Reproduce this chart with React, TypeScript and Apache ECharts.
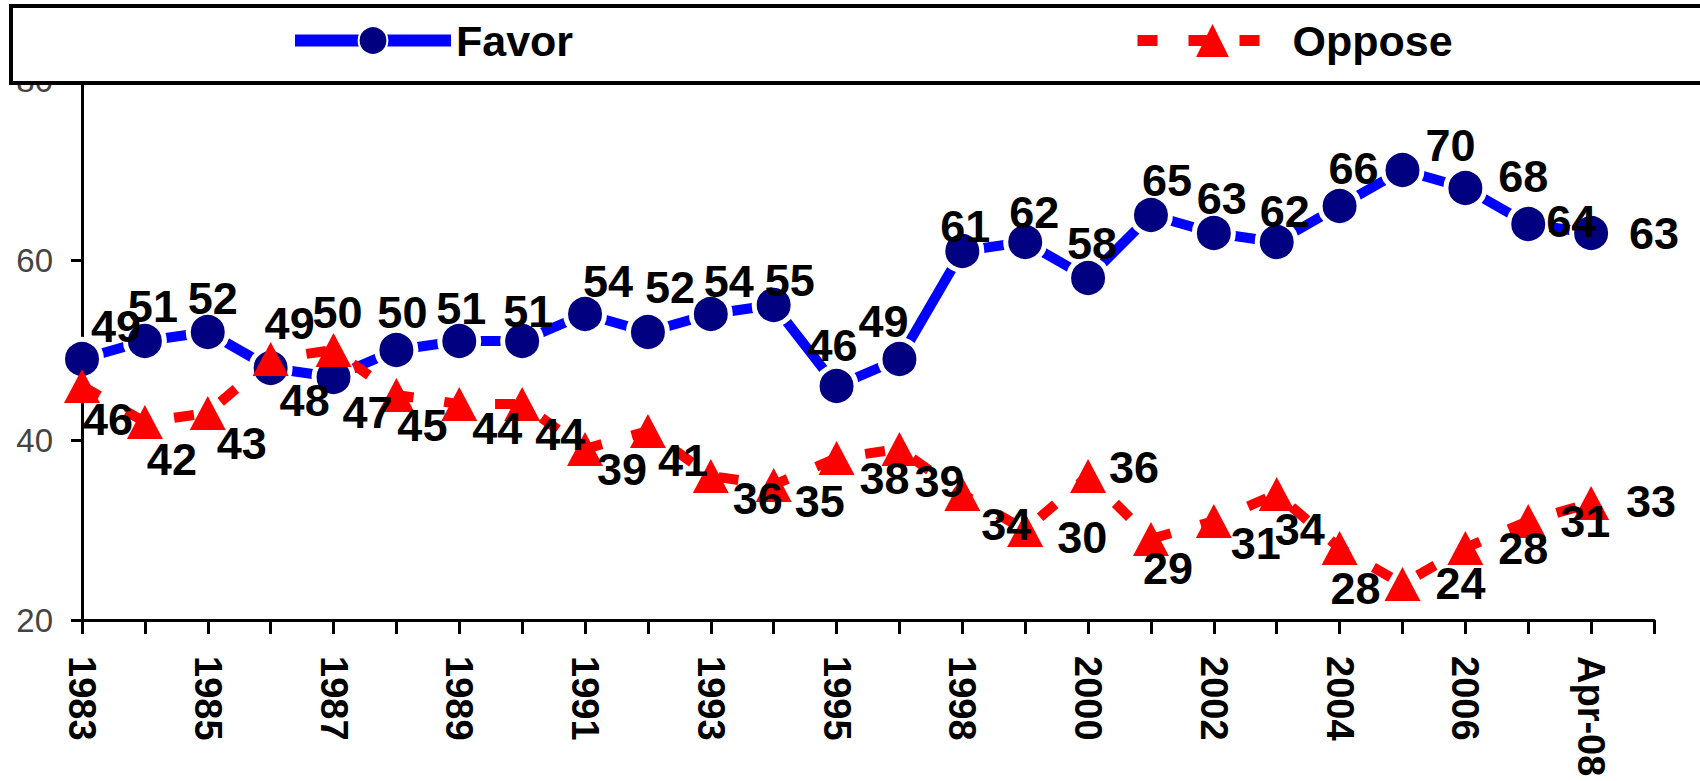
import React, { useEffect, useRef } from "react";
import * as echarts from "echarts";

const categories = [
  "1983", "1984", "1985", "1986", "1987", "1988", "1989", "1990", "1991", "1992",
  "1993", "1994", "1995", "1996", "1998", "1999", "2000", "2001", "2002", "2003",
  "2004", "2005", "2006", "2007", "Apr-08", "",
];
const favorValues = [49, 51, 52, 48, 47, 50, 51, 51, 54, 52, 54, 55, 46, 49, 61, 62, 58, 65, 63, 62, 66, 70, 68, 64, 63];
const opposeValues = [46, 42, 43, 49, 50, 45, 44, 44, 39, 41, 36, 35, 38, 39, 34, 30, 36, 29, 31, 34, 28, 24, 28, 31, 33];
const yAxisMin = 20;
const yAxisMax = 80;
const yAxisStep = 20;

// label placement (offset from the marker), kept apart from the values
const favorLabelOffsets = [
  [34, -33], [8, -35], [5, -34], [34, 32], [34, 35], [6, -38], [2, -33], [6, -30], [23, -33], [22, -45],
  [18, -33], [16, -25], [-4, -41], [-16, -38], [3, -25], [9, -30], [4, -35], [16, -35], [8, -35], [8, -31],
  [14, -38], [48, -25], [58, -12], [43, -3], [63, 0],
];
const opposeLabelOffsets = [
  [26, 33], [27, 37], [34, 30], [19, -36], [4, -38], [26, 30], [38, 24], [38, 30], [37, 20], [35, 29],
  [47, 22], [46, 16], [48, 20], [40, 32], [44, 30], [57, 7], [46, -9], [17, 29], [42, 22], [23, 35],
  [16, 40], [58, -1], [58, 0], [57, 0], [60, -2],
];

const FONT = "'Liberation Sans', Arial, Helvetica, sans-serif";

export default function App() {
  const ref = useRef<HTMLDivElement>(null);

  useEffect(() => {
    if (!ref.current) return;
    const chart = echarts.init(ref.current, undefined, { renderer: "svg" });
    const labelStyle = {
      show: true,
      position: "inside",
      fontSize: 45,
      fontWeight: "bold",
      color: "#000",
      fontFamily: FONT,
    };
    chart.setOption({
      animation: false,
      backgroundColor: "#fff",
      grid: { left: 82, right: 46, top: 80, bottom: 161, containLabel: false },
      legend: [
        {
          data: ["Favor"],
          left: 289,
          top: 19,
          padding: 0,
          itemWidth: 156,
          itemHeight: 36,
          selectedMode: false,
          lineStyle: { width: 12, type: "solid" },
          textStyle: { fontSize: 43, fontWeight: "bold", color: "#000", fontFamily: FONT },
        },
        {
          data: ["Oppose"],
          left: 1132,
          top: 19,
          padding: 0,
          itemWidth: 150,
          itemHeight: 41,
          selectedMode: false,
          lineStyle: { width: 11 },
          textStyle: { fontSize: 43, fontWeight: "bold", color: "#000", fontFamily: FONT },
        },
      ],
      graphic: [
        {
          type: "rect",
          z: 3,
          shape: { x: 11, y: 6, width: 1740, height: 77 },
          style: { fill: "#fff", stroke: "#000", lineWidth: 4 },
        },
      ],
      xAxis: {
        type: "category",
        data: categories,
        boundaryGap: false,
        axisLine: { lineStyle: { color: "#000", width: 3 } },
        axisTick: { show: true, interval: 0, length: 14, lineStyle: { color: "#000", width: 3 } },
        axisLabel: {
          interval: 1,
          rotate: -90,
          margin: 36,
          fontSize: 38,
          fontWeight: "bold",
          color: "#000",
          fontFamily: FONT,
        },
        splitLine: { show: false },
      },
      yAxis: {
        type: "value",
        min: yAxisMin,
        max: yAxisMax,
        interval: yAxisStep,
        axisLine: { show: true, lineStyle: { color: "#000", width: 3 } },
        axisTick: { show: true, length: 11, lineStyle: { color: "#000", width: 3 } },
        axisLabel: { fontSize: 33, color: "#444", margin: 29, fontFamily: FONT },
        splitLine: { show: false },
      },
      series: [
        {
          name: "Favor",
          type: "line",
          data: favorValues.map((v, i) => ({ value: v, label: { offset: favorLabelOffsets[i] } })),
          symbol: "circle",
          symbolSize: 39,
          itemStyle: { color: "#000080", borderColor: "#fff", borderWidth: 5 },
          lineStyle: { color: "#0000FF", width: 10, type: "solid" },
          label: labelStyle,
          z: 2,
        },
        {
          name: "Oppose",
          type: "line",
          data: opposeValues.map((v, i) => ({ value: v, label: { offset: opposeLabelOffsets[i] } })),
          symbol: "triangle",
          symbolSize: [36, 34],
          itemStyle: { color: "#FF0000" },
          lineStyle: { color: "#FF0000", width: 10, type: [20, 31] },
          label: labelStyle,
          z: 2,
        },
      ],
    });
    return () => chart.dispose();
  }, []);

  return (
    <div
      ref={ref}
      style={{ position: "absolute", left: 0, top: 0, width: 1700, height: 781, background: "#fff" }}
    />
  );
}
